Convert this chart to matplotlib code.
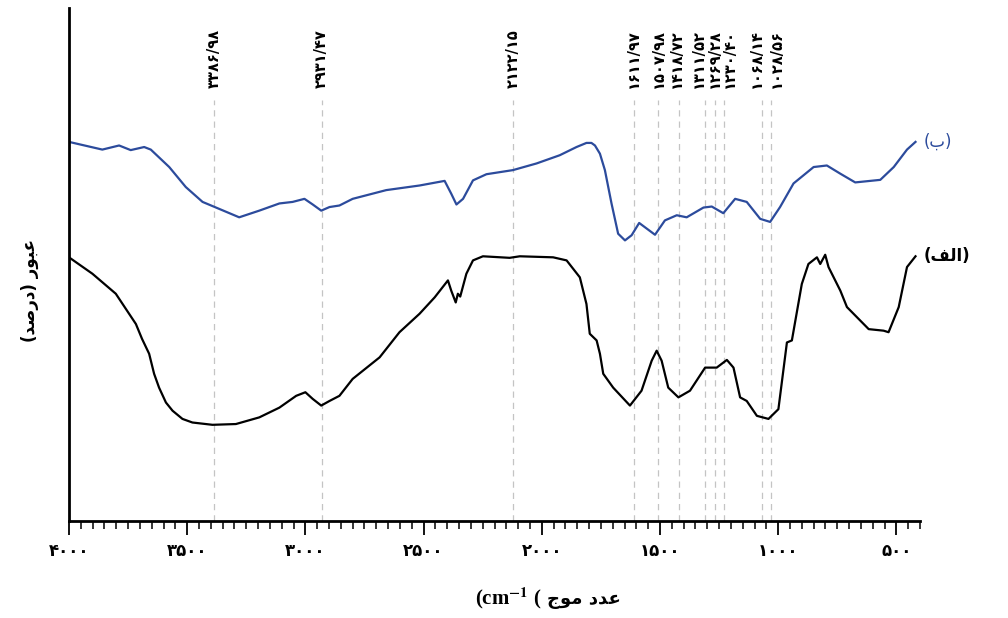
import numpy as np
import matplotlib
matplotlib.use('Agg')
import matplotlib.pyplot as plt
from matplotlib.ticker import MultipleLocator

# FTIR spectra (wavenumber cm-1, transmittance in arbitrary %)
wn_b = [4000, 3859, 3788, 3739, 3682, 3654, 3576, 3506, 3435, 3378, 3280, 3195,
        3110, 3054, 3004, 2969, 2933, 2898, 2856, 2800, 2658, 2517, 2411, 2383,
        2361, 2333, 2291, 2234, 2122, 2022, 1924, 1853, 1811, 1790, 1775, 1754,
        1733, 1705, 1677, 1648, 1620, 1588, 1556, 1521, 1479, 1429, 1387, 1316,
        1281, 1232, 1182, 1133, 1076, 1034, 992, 935, 850, 794, 737, 674, 568,
        511, 455, 419]
t_b = [73.9, 72.4, 73.2, 72.3, 72.9, 72.4, 69.0, 65.1, 62.2, 61.1, 59.2, 60.5,
       61.9, 62.2, 62.8, 61.7, 60.5, 61.2, 61.5, 62.8, 64.5, 65.4, 66.3, 63.8,
       61.7, 62.8, 66.4, 67.6, 68.4, 69.7, 71.3, 72.9, 73.7, 73.7, 73.2, 71.6,
       68.4, 61.9, 56.0, 54.7, 55.7, 58.1, 57.0, 55.8, 58.6, 59.6, 59.2, 61.1,
       61.3, 60.0, 62.8, 62.2, 58.9, 58.3, 61.2, 65.8, 69.0, 69.3, 67.7, 66.0,
       66.5, 69.0, 72.4, 73.9]

wn_a = [4000, 3901, 3802, 3717, 3691, 3661, 3640, 3619, 3590, 3562, 3520, 3478,
        3393, 3294, 3195, 3110, 3039, 3000, 2969, 2933, 2898, 2856, 2800, 2686,
        2602, 2517, 2453, 2397, 2383, 2364, 2355, 2345, 2319, 2291, 2249, 2136,
        2093, 1952, 1895, 1839, 1811, 1797, 1768, 1754, 1740, 1698, 1627, 1578,
        1535, 1514, 1493, 1465, 1422, 1373, 1309, 1260, 1217, 1189, 1161, 1133,
        1090, 1041, 999, 963, 942, 900, 872, 836, 822, 801, 787, 737, 709, 617,
        554, 533, 490, 455, 419]
t_a = [51.4, 48.2, 44.3, 38.4, 35.5, 32.6, 28.7, 26.0, 23.1, 21.5, 19.9, 19.2,
       18.75, 18.9, 20.2, 22.1, 24.4, 25.1, 23.8, 22.5, 23.4, 24.4, 27.7, 31.9,
       36.8, 40.4, 43.6, 46.9, 44.9, 42.6, 44.3, 43.75, 48.2, 50.8, 51.6, 51.3,
       51.6, 51.4, 50.8, 47.5, 42.3, 36.5, 35.2, 32.6, 28.7, 26.0, 22.5, 25.4,
       31.25, 33.2, 31.25, 26.0, 24.1, 25.4, 29.9, 29.9, 31.4, 29.9, 24.1, 23.4,
       20.5, 19.9, 21.8, 34.8, 35.2, 46.2, 50.1, 51.4, 50.1, 51.9, 49.5, 44.9,
       41.7, 37.4, 37.1, 36.8, 41.7, 49.5, 51.6]

peaks = ['3386.98', '2931.47', '2122.15', '1611.97', '1507.98', '1418.72',
         '1311.52', '1269.28', '1230.40', '1068.14', '1028.56']
# small sideways nudge (points) so the crowded labels do not pile up
nudge = [0, 0, 0, 0, 0, -2, -4, 0, 4, -4, 4]
ticks = [4000, 3500, 3000, 2500, 2000, 1500, 1000, 500]

FA = str.maketrans('0123456789.', '\u06f0\u06f1\u06f2\u06f3\u06f4\u06f5\u06f6\u06f7\u06f8\u06f9/')

def fa(s):
    return str(s).translate(FA)

# Arabic script in visual order, presentation forms (matplotlib has no shaping)
lbl_b = '(\ufe8f)'                                   # (ب)
lbl_a = '(\ufed2\ufedf\ufe8d)'                       # (الف)
ylab = '(\ufeaa\ufebb\ufead\ufea9) \ufead\ufeee\ufe92\ufecb'   # عبور (درصد)
xlab_fa = '\ufe9d\ufeee\ufee3 \ufea9\ufeaa\ufecb'    # عدد موج

plt.rcParams['mathtext.fontset'] = 'stix'

fig = plt.figure(figsize=(10.08, 6.18), dpi=100)
ax = fig.add_axes([69 / 1008, 1 - 521 / 618, (920 - 69) / 1008, (521 - 8) / 618])
ax.set_xlim(4000, 400)
ax.set_ylim(0, 100)

blue = '#2c4b9c'
ax.plot(wn_b, t_b, color=blue, lw=1.6)
ax.plot(wn_a, t_a, color='black', lw=1.6)

# peak markers
for p, dx in zip(peaks, nudge):
    w = float(p)
    ax.vlines(w, 0, 82, color='#c4c4c4', lw=0.9, linestyles=(0, (5, 4)), zorder=0)
    ax.annotate(fa(p), xy=(w, 84.5), xytext=(dx, 0), textcoords='offset points',
                rotation=90, ha='center', va='bottom', fontsize=10.5,
                fontweight='bold', family='DejaVu Sans')

ax.annotate(lbl_b, xy=(wn_b[-1], t_b[-1]), xytext=(6, 0), textcoords='offset points',
            ha='left', va='center', color=blue, fontsize=12, family='DejaVu Sans',
            annotation_clip=False)
ax.annotate(lbl_a, xy=(wn_a[-1], t_a[-1]), xytext=(6, 0), textcoords='offset points',
            ha='left', va='center', color='black', fontsize=12, fontweight='bold',
            family='DejaVu Sans', annotation_clip=False)

for s in ['top', 'right']:
    ax.spines[s].set_visible(False)
for s in ['left', 'bottom']:
    ax.spines[s].set_linewidth(2)

ax.set_yticks([])
ax.set_xticks(ticks)
ax.set_xticklabels([fa(t) for t in ticks], fontsize=12, fontweight='bold',
                   family='DejaVu Sans')
ax.xaxis.set_minor_locator(MultipleLocator(50))
ax.tick_params(axis='x', which='major', direction='out', length=10, width=1.3, pad=5)
ax.tick_params(axis='x', which='minor', direction='out', length=6, width=1.1)

fig.text(30 / 1008, 1 - 290 / 618, ylab, rotation=90, ha='center', va='center',
         fontsize=12, fontweight='bold', family='DejaVu Sans')

fig.text(542 / 1008, 1 - 604 / 618, '(cm$^{\\mathbf{-1}}$ (', ha='right', va='baseline',
         fontsize=15, fontweight='bold', family='Liberation Serif')
fig.text(547 / 1008, 1 - 604 / 618, xlab_fa, ha='left', va='baseline',
         fontsize=13, fontweight='bold', family='DejaVu Sans')

fig.savefig('out.png', dpi=100)
